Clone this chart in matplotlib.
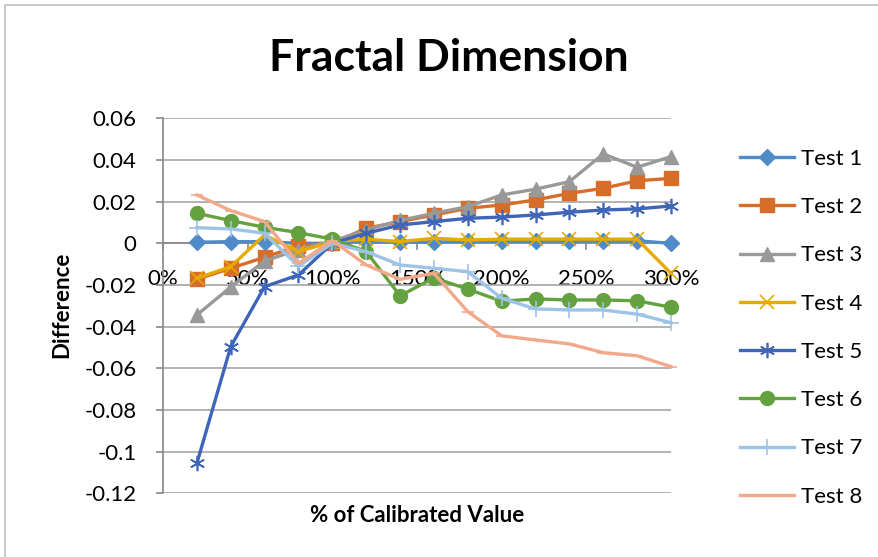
import numpy as np
import matplotlib.pyplot as plt
from matplotlib.patches import Rectangle
from matplotlib.ticker import FuncFormatter

plt.rcParams['font.family'] = ['Lato', 'DejaVu Sans']

# percentage of calibrated value
pct = [20, 40, 60, 80, 100, 120, 140, 160, 180, 200, 220, 240, 260, 280, 300]

test1 = [0.0005, 0.0008, 0.0008, 0.0, 0.0, 0.001, 0.0005, 0.0005, 0.001, 0.001, 0.0012, 0.0012, 0.0012, 0.0012, 0.0]
test2 = [-0.0173, -0.012, -0.0067, -0.0012, 0.0, 0.0072, 0.0104, 0.0136, 0.0168, 0.0184, 0.0208, 0.024, 0.0264, 0.030, 0.0312]
test3 = [-0.0344, -0.021, -0.0085, -0.003, 0.001, 0.0064, 0.011, 0.0144, 0.0176, 0.0232, 0.026, 0.0296, 0.0429, 0.0365, 0.0416]
test4 = [-0.0168, -0.0112, 0.004, -0.004, 0.0008, 0.002, 0.0008, 0.0024, 0.0016, 0.002, 0.002, 0.002, 0.002, 0.002, -0.0144]
test5 = [-0.1056, -0.0496, -0.0208, -0.0152, 0.0, 0.0048, 0.0088, 0.0104, 0.012, 0.0126, 0.0136, 0.0149, 0.016, 0.0165, 0.0179]
test6 = [0.0144, 0.0109, 0.0077, 0.0051, 0.002, -0.004, -0.0252, -0.0166, -0.022, -0.0278, -0.0267, -0.0272, -0.0272, -0.0276, -0.0307]
test7 = [0.0075, 0.0069, 0.0048, -0.011, 0.0, -0.004, -0.0104, -0.012, -0.0136, -0.0264, -0.0315, -0.032, -0.032, -0.034, -0.0381]
test8 = [0.0232, 0.0157, 0.0104, -0.0096, 0.0013, -0.0104, -0.0173, -0.0144, -0.0328, -0.0444, -0.0464, -0.0483, -0.0525, -0.054, -0.0592]

names = ['Test 1', 'Test 2', 'Test 3', 'Test 4', 'Test 5', 'Test 6', 'Test 7', 'Test 8']
series = [test1, test2, test3, test4, test5, test6, test7, test8]
colors = ['#4F8BC9', '#D86D2A', '#999999', '#E7AA00', '#3E65B8', '#64A13F', '#9DC3E6', '#F2A88A']
markers = ['D', 's', '^', 'x', (6, 2, 0), 'o', '+', '_']
msizes = [8, 10, 10, 10, 11, 10, 11, 8]

fig = plt.figure(figsize=(8.79, 5.57), dpi=100)
fig.patches.append(Rectangle((5 / 879, -0.1), 2, 1.1 - 5 / 557, transform=fig.transFigure,
                             fill=False, edgecolor='#BFBFBF', linewidth=1.2))
ax = fig.add_axes([163 / 879, 1 - 493.3 / 557, 508 / 879, 375 / 557])

lines = []
for y, c, m, ms, n in zip(series, colors, markers, msizes, names):
    mew = 1.2 if m in ('x', '+', '_') or isinstance(m, tuple) else 1
    ln, = ax.plot(pct, y, color=c, lw=2.4, marker=m, markersize=ms,
                  markeredgewidth=mew, markeredgecolor=c, markerfacecolor=c,
                  label=n, solid_joinstyle='miter', clip_on=False)
    lines.append(ln)

ax.set_xlim(0, 300)
ax.set_ylim(-0.12, 0.06)
ax.set_xticks([])
ax.set_yticks(np.arange(-0.12, 0.061, 0.02))
ax.yaxis.set_major_formatter(FuncFormatter(lambda v, p: '0' if abs(v) < 1e-9 else ('%.2f' % v).rstrip('0')))

ax.grid(axis='y', color='#A6A6A6', lw=1.2)
ax.set_axisbelow(True)
for s in ['top', 'right', 'bottom']:
    ax.spines[s].set_visible(False)
ax.spines['left'].set_color('#888888')
ax.spines['left'].set_linewidth(1.2)
ax.axhline(0, color='#888888', lw=1.2, zorder=1.5)
ax.tick_params(axis='y', length=5, width=1.2, color='#888888', pad=14, labelsize=16)

# x tick labels sit just under the zero line
for v in np.arange(0, 301, 50):
    ax.plot([v, v], [0, -0.0025], color='#888888', lw=1.2, zorder=1.5, clip_on=False)
    ax.text(v, -0.017, '%d%%' % v, ha='center', va='center', fontsize=16, zorder=0.5)

fig.text(62 / 879, 1 - 305 / 557, 'Difference', rotation=90, ha='center', va='center',
         fontsize=16, fontweight='bold')
fig.text(417 / 879, 1 - 515 / 557, '% of Calibrated Value', ha='center', va='center',
         fontsize=16, fontweight='bold')
fig.text(449 / 879, 1 - 58 / 557, 'Fractal Dimension', ha='center', va='center',
         fontsize=32, fontweight='bold')

fig.legend(handles=lines, loc='upper left', bbox_to_anchor=(720 / 879, 1 - 129 / 557),
           frameon=False, fontsize=16, handlelength=2.45, handletextpad=0.3,
           labelspacing=1.27)

fig.savefig('out.png', dpi=100)
